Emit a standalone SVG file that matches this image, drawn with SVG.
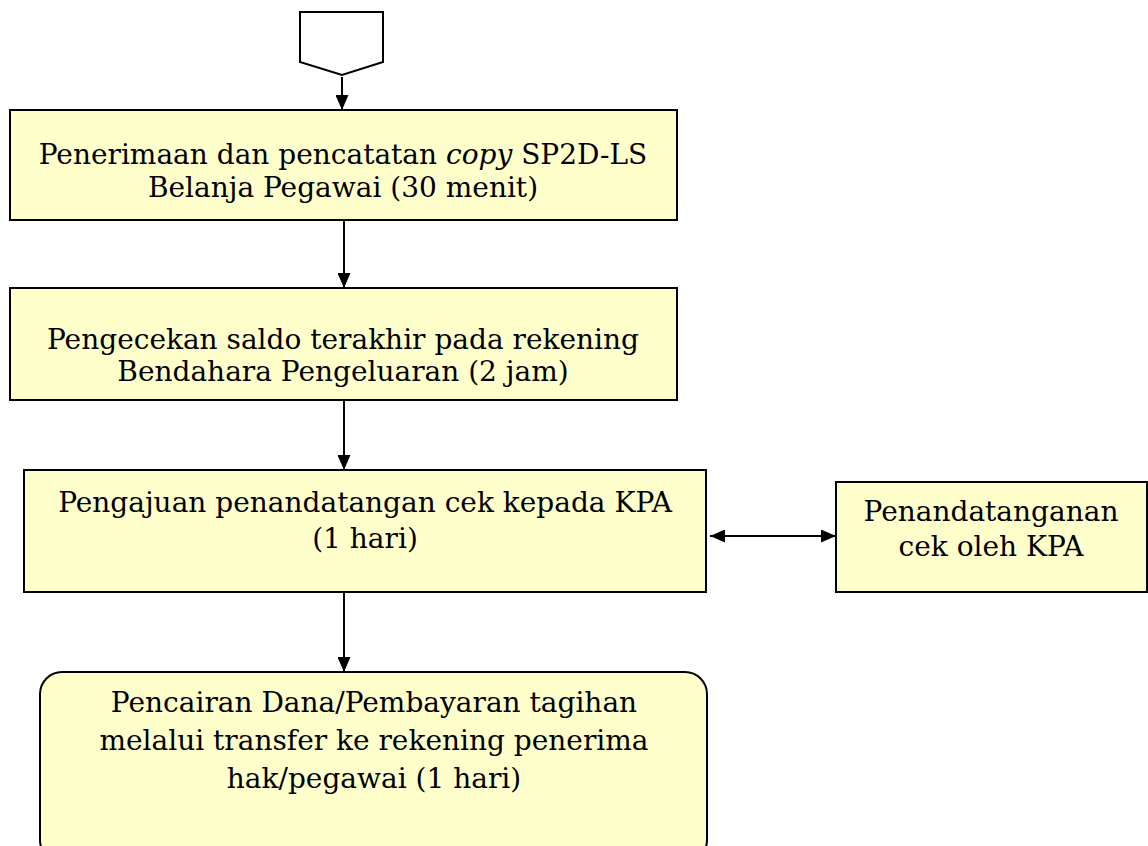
<svg xmlns="http://www.w3.org/2000/svg" width="1148" height="846" viewBox="0 0 1148 846">
<style>
.box{fill:#ffffcc;stroke:#000;stroke-width:2}
.t{font-family:"DejaVu Serif","Liberation Serif",serif;font-size:28px;fill:#000;text-anchor:middle}
.c{stroke:#000;stroke-width:2;fill:none}
</style>
<defs>
<marker id="ah" markerWidth="15" markerHeight="13" refX="15" refY="6.5" orient="auto-start-reverse" markerUnits="userSpaceOnUse" viewBox="0 0 15 13">
<path d="M0,0 L15,6.5 L0,13 z" fill="#000"/>
</marker>
</defs>
<rect width="1148" height="846" fill="#fff"/>
<g id="connector-start">
<path d="M300,12 L383,12 L383,62 L342,75 L300,62 Z" fill="#fff" stroke="#000" stroke-width="2"/>
</g>
<g id="n1">
<rect class="box" x="10" y="110" width="667" height="110"/>
<text class="t" x="343" y="164">Penerimaan dan pencatatan <tspan font-style="italic">copy</tspan> SP2D-LS</text>
<text class="t" x="343" y="197">Belanja Pegawai (30 menit)</text>
</g>
<g id="n2">
<rect class="box" x="10" y="288" width="667" height="112"/>
<text class="t" x="343" y="349">Pengecekan saldo terakhir pada rekening</text>
<text class="t" x="343" y="381">Bendahara Pengeluaran (2 jam)</text>
</g>
<g id="n3">
<rect class="box" x="24" y="470" width="682" height="122"/>
<text class="t" x="365" y="512">Pengajuan penandatangan cek kepada KPA</text>
<text class="t" x="365" y="548">(1 hari)</text>
</g>
<g id="n4">
<rect class="box" x="836" y="482" width="311" height="110"/>
<text class="t" x="991" y="521">Penandatanganan</text>
<text class="t" x="991" y="556">cek oleh KPA</text>
</g>
<g id="n5">
<rect class="box" x="40" y="672" width="667" height="190" rx="22"/>
<text class="t" x="374" y="712">Pencairan Dana/Pembayaran tagihan</text>
<text class="t" x="374" y="750">melalui transfer ke rekening penerima</text>
<text class="t" x="374" y="788">hak/pegawai (1 hari)</text>
</g>
<g id="connectors">
<line class="c" x1="342" y1="77" x2="342" y2="110" marker-end="url(#ah)"/>
<line class="c" x1="344" y1="220" x2="344" y2="288" marker-end="url(#ah)"/>
<line class="c" x1="344" y1="400" x2="344" y2="470" marker-end="url(#ah)"/>
<line class="c" x1="344" y1="592" x2="344" y2="672" marker-end="url(#ah)"/>
<line class="c" x1="710" y1="536" x2="836" y2="536" marker-start="url(#ah)" marker-end="url(#ah)"/>
</g>
</svg>
